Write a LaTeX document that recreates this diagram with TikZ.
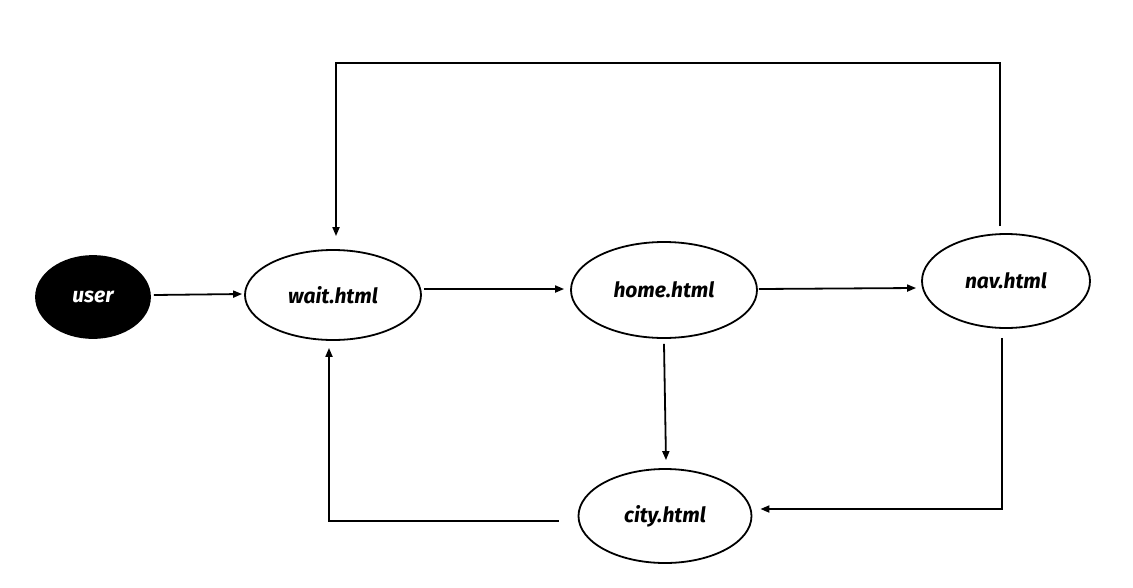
\documentclass[tikz,border=0pt]{standalone}
\usepackage{fontspec}
\setmainfont{Fira Sans}
\usetikzlibrary{shapes.geometric,arrows.meta,calc}
\begin{document}
\begin{tikzpicture}[x=1pt,y=-1pt,
  every node/.style={font=\fontsize{21}{24}\selectfont\bfseries\itshape},
  page/.style={ellipse,draw=black,line width=1.8pt,fill=white,inner sep=0pt},
  dark/.style={ellipse,draw=black,line width=1.8pt,fill=black,text=white,inner sep=0pt},
  conn/.style={line width=1.8pt,-{Triangle[length=9pt,width=7pt]}}]
\useasboundingbox (0,0) rectangle (1133,587);
\node[dark,minimum width=114pt,minimum height=82pt] (user) at (93,297) {user};
\node[page,minimum width=176pt,minimum height=90pt] (wait) at (333,295) {wait.html};
\node[page,minimum width=186pt,minimum height=96pt] (home) at (664,290) {home.html};
\node[page,minimum width=168pt,minimum height=94pt] (nav) at (1006,281) {nav.html};
\node[page,minimum width=173pt,minimum height=94pt] (city) at (665,516) {city.html};
\coordinate (tr) at (1000,63);
\coordinate (tl) at (336,63);
\draw[conn] ($(user.east)+(3,-2)$) -- ($(wait.west)+(-2,-1)$);
\draw[conn] ($(wait.east)+(2,-6)$) -- ($(home.west)+(-6,-1)$);
\draw[conn] ($(home.east)+(1,-1)$) -- ($(nav.west)+(-5,7)$);
\draw[conn] ($(home.south)+(0,5)$) -- ($(city.north)+(1,-8)$);
\draw[conn] ($(nav.north)+(-6,-7)$) |- (tr) -- (tl) -- ($(wait.north)+(3,-13)$);
\draw[conn] ($(nav.south)+(-4,9)$) |- ($(city.east)+(8,-7)$);
\draw[conn] ($(city.west)+(-19,5)$) -| ($(wait.south)+(-4,7)$);
\end{tikzpicture}
\end{document}
